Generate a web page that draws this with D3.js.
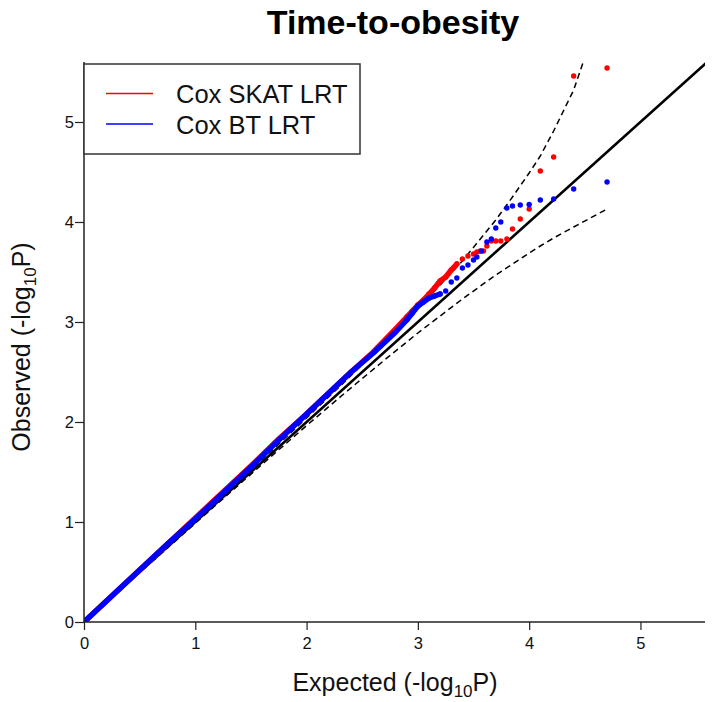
<!DOCTYPE html>
<html>
<head>
<meta charset="utf-8">
<script src="https://cdn.jsdelivr.net/npm/d3@7"></script>
<style>
  html, body { margin: 0; padding: 0; background: #fff; }
  svg { display: block; font-family: "Liberation Sans", Arial, Helvetica, sans-serif; }
</style>
</head>
<body>
<svg id="chart" width="714" height="702"></svg>
<script>
// ---- data ----
const title = "Time-to-obesity";
const seriesNames = ["Cox SKAT LRT", "Cox BT LRT"];
const seriesColors = ["#ff0000", "#0000ff"];
const xTicks = [0, 1, 2, 3, 4, 5];
const yTicks = [0, 1, 2, 3, 4, 5];

// Cox SKAT LRT: expected vs observed -log10(P)
const redExpected = [0, 0.25, 0.5, 0.75, 1.0, 1.25, 1.5, 1.75, 2.0, 2.2, 2.4, 2.6, 2.8, 2.9, 2.95, 3.0,
  3.05, 3.1, 3.15, 3.2, 3.25, 3.3, 3.35, 3.4, 3.45, 3.5, 3.53, 3.56, 3.59,
  3.62, 3.66, 3.70, 3.745, 3.80, 3.85, 3.92, 4.00, 4.10, 4.22, 4.40, 4.70];
const redObserved = [0, 0.26, 0.52, 0.78, 1.04, 1.30, 1.56, 1.83, 2.08, 2.29, 2.50, 2.70, 2.93, 3.05, 3.11, 3.17,
  3.22, 3.28, 3.34, 3.41, 3.45, 3.52, 3.58, 3.63, 3.66, 3.68, 3.70, 3.71, 3.71,
  3.76, 3.81, 3.81, 3.81, 3.83, 3.93, 4.03, 4.13, 4.51, 4.65, 5.46, 5.54];

// Cox BT LRT
const blueExpected = [0, 0.25, 0.5, 0.75, 1.0, 1.25, 1.5, 1.75, 2.0, 2.2, 2.4, 2.6, 2.8, 2.9, 2.95, 3.0,
  3.05, 3.1, 3.15, 3.2, 3.25, 3.3, 3.35, 3.4, 3.45, 3.5, 3.53,
  3.57, 3.62, 3.66, 3.70, 3.745, 3.80, 3.85, 3.92, 4.00, 4.10, 4.22, 4.40, 4.70];
const blueObserved = [0, 0.26, 0.52, 0.78, 1.03, 1.29, 1.55, 1.82, 2.08, 2.29, 2.50, 2.69, 2.90, 3.02, 3.09, 3.16,
  3.20, 3.24, 3.26, 3.28, 3.31, 3.40, 3.44, 3.54, 3.57, 3.62, 3.65,
  3.71, 3.80, 3.83, 3.94, 4.00, 4.14, 4.16, 4.17, 4.175, 4.22, 4.23, 4.33, 4.40];

// 95% confidence band (dashed lines)
const ciExpected = [0, 0.3, 0.7, 1.0, 1.3, 1.7, 2.0, 2.3, 2.7, 3.0, 3.2, 3.4, 3.7, 3.85, 4.0, 4.10, 4.22, 4.40, 4.70];
const ciUpper    = [0, 0.302, 0.709, 1.012, 1.317, 1.728, 2.041, 2.357, 2.79, 3.13, 3.37, 3.61, 4.02, 4.25, 4.49, 4.66, 4.91, 5.32, 6.30];
const ciLower    = [0, 0.298, 0.690, 0.988, 1.283, 1.674, 1.964, 2.249, 2.62, 2.89, 3.06, 3.23, 3.47, 3.58, 3.69, 3.76, 3.84, 3.95, 4.13];

const xMax = 5.58, yMax = 5.6;

// ---- layout ----
const svg = d3.select("#chart");
const L = 84, R = 705, T = 62, B = 622;
const x = d3.scaleLinear().domain([0, xMax]).range([L, R]);
const y = d3.scaleLinear().domain([0, yMax]).range([B, T]);

svg.append("defs").append("clipPath").attr("id", "plotclip")
  .append("rect").attr("x", L).attr("y", T).attr("width", R - L).attr("height", B - T);

const plot = svg.append("g").attr("clip-path", "url(#plotclip)");

// diagonal
plot.append("line")
  .attr("x1", x(0)).attr("y1", y(0)).attr("x2", x(6)).attr("y2", y(6))
  .attr("stroke", "#000").attr("stroke-width", 2.6);

// confidence band
const ciLine = d3.line().x(d => x(d[0])).y(d => y(d[1]));
[ciUpper, ciLower].forEach(arr => {
  plot.append("path")
    .datum(ciExpected.map((e, i) => [e, arr[i]]))
    .attr("d", ciLine)
    .attr("fill", "none").attr("stroke", "#000").attr("stroke-width", 1.5)
    .attr("stroke-dasharray", "6,4");
});

// series (continuous where points overlap, individual dots in the tail)
const series = [
  { e: redExpected, o: redObserved, c: seriesColors[0], denseTo: 3.35 },
  { e: blueExpected, o: blueObserved, c: seriesColors[1], denseTo: 3.2 }
];
const ptLine = d3.line().x(d => x(d[0])).y(d => y(d[1]));
series.forEach(s => {
  const pts = s.e.map((e, i) => [e, s.o[i]]);
  const dense = pts.filter(p => p[0] <= s.denseTo);
  plot.append("path").datum(dense).attr("d", ptLine)
    .attr("fill", "none").attr("stroke", s.c).attr("stroke-width", 5.5)
    .attr("stroke-linecap", "round").attr("stroke-linejoin", "round");
  plot.selectAll(null).data(pts.filter(p => p[0] > 2.8)).enter().append("circle")
    .attr("cx", d => x(d[0])).attr("cy", d => y(d[1])).attr("r", 2.7)
    .attr("fill", s.c);
});

// axes (L-shaped box)
const axisColor = "#222";
svg.append("line").attr("x1", L).attr("x2", R).attr("y1", B).attr("y2", B)
  .attr("stroke", axisColor).attr("stroke-width", 1.5);
svg.append("line").attr("x1", L).attr("x2", L).attr("y1", T).attr("y2", B)
  .attr("stroke", axisColor).attr("stroke-width", 1.5);

const xAxis = svg.append("g").attr("transform", `translate(0,${B})`)
  .call(d3.axisBottom(x).tickValues(xTicks).tickSize(8).tickPadding(7).tickFormat(d3.format("d")));
const yAxis = svg.append("g").attr("transform", `translate(${L},0)`)
  .call(d3.axisLeft(y).tickValues(yTicks).tickSize(9).tickPadding(1).tickFormat(d3.format("d")));
[xAxis, yAxis].forEach(g => {
  g.select(".domain").remove();
  g.selectAll(".tick line").attr("stroke", axisColor).attr("stroke-width", 1.2);
  g.selectAll(".tick text").attr("fill", "#111")
    .style("font-family", "'Liberation Sans', Arial, sans-serif").style("font-size", "16.5px");
});

// title
svg.append("text").attr("x", 393).attr("y", 34).attr("text-anchor", "middle")
  .style("font-size", "34px").style("font-weight", "bold").attr("fill", "#000").text(title);

// axis titles
const xl = svg.append("text").attr("x", 395).attr("y", 691).attr("text-anchor", "middle")
  .style("font-size", "25px").attr("fill", "#111");
xl.append("tspan").text("Expected (-log");
xl.append("tspan").attr("dy", 6).style("font-size", "17px").text("10");
xl.append("tspan").attr("dy", -6).text("P)");

const yl = svg.append("text").attr("transform", "translate(30,347) rotate(-90)").attr("text-anchor", "middle")
  .style("font-size", "25px").attr("fill", "#111");
yl.append("tspan").text("Observed (-log");
yl.append("tspan").attr("dy", 6).style("font-size", "17px").text("10");
yl.append("tspan").attr("dy", -6).text("P)");

// legend
const lg = svg.append("g");
lg.append("rect").attr("x", 84).attr("y", 64).attr("width", 276).attr("height", 90)
  .attr("fill", "#fff").attr("stroke", "#333").attr("stroke-width", 1.5);
seriesNames.forEach((n, i) => {
  const yy = 93.5 + i * 30.5;
  lg.append("line").attr("x1", 106).attr("x2", 153).attr("y1", yy).attr("y2", yy)
    .attr("stroke", seriesColors[i]).attr("stroke-width", 1.3);
  lg.append("text").attr("x", 176).attr("y", yy + 9.5).style("font-size", "25.5px")
    .attr("fill", "#111").text(n);
});
</script>
</body>
</html>
